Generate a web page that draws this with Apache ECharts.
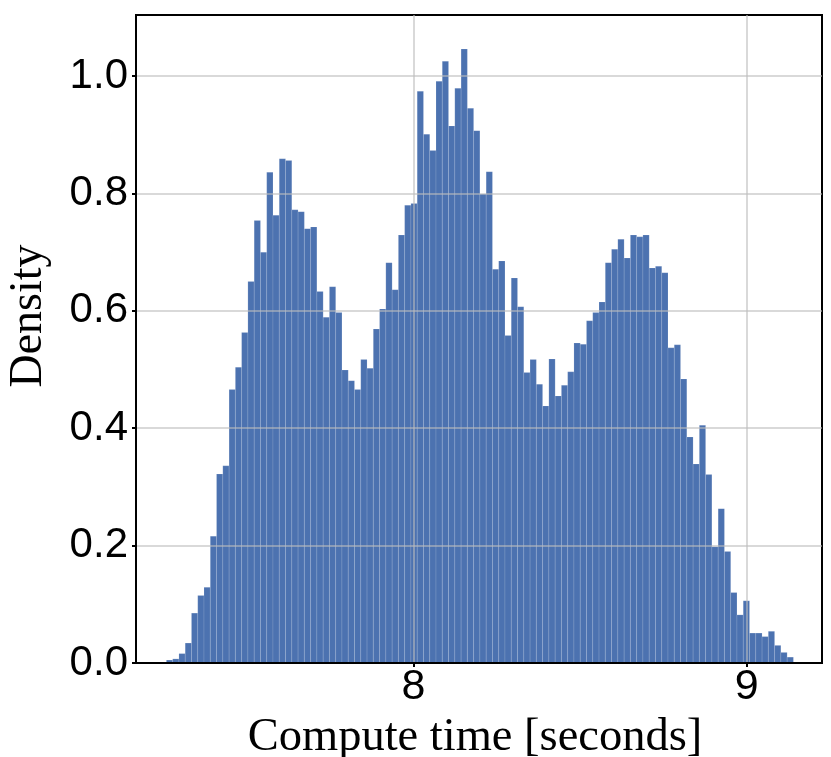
<!DOCTYPE html>
<html>
<head>
<meta charset="utf-8">
<script src="https://cdn.jsdelivr.net/npm/echarts@6/dist/echarts.min.js"></script>
<style>html,body{margin:0;padding:0;background:#fff}#chart{width:831px;height:757px}</style>
</head>
<body>
<div id="chart"></div>
<script>
// Histogram data: 100 bins
const binStart = 7.2592;
const binWidth = 0.01881;
const densities = [
  0.005, 0.007, 0.016, 0.034, 0.085, 0.115, 0.129, 0.216, 0.322, 0.336,
  0.466, 0.504, 0.563, 0.650, 0.754, 0.700, 0.836, 0.763, 0.859, 0.856,
  0.772, 0.769, 0.740, 0.743, 0.633, 0.589, 0.641, 0.597, 0.499, 0.481,
  0.466, 0.517, 0.502, 0.569, 0.603, 0.682, 0.636, 0.729, 0.780, 0.783,
  0.974, 0.901, 0.873, 0.991, 1.025, 0.915, 0.979, 1.046, 0.945, 0.907,
  0.799, 0.837, 0.671, 0.685, 0.558, 0.656, 0.607, 0.495, 0.517, 0.475,
  0.438, 0.518, 0.455, 0.473, 0.496, 0.545, 0.543, 0.583, 0.597, 0.615,
  0.682, 0.705, 0.722, 0.690, 0.729, 0.726, 0.729, 0.673, 0.676, 0.665,
  0.537, 0.542, 0.484, 0.385, 0.339, 0.405, 0.321, 0.198, 0.263, 0.190,
  0.120, 0.082, 0.106, 0.051, 0.051, 0.045, 0.054, 0.030, 0.018, 0.010
];
const xTicks = [8, 9];
const yTicks = [0.0, 0.2, 0.4, 0.6, 0.8, 1.0];
const xRange = [7.168, 9.226];
const yRange = [0, 1.104];
const xName = 'Compute time [seconds]';
const yName = 'Density';

const bins = densities.map((d, i) => [binStart + i * binWidth, binStart + (i + 1) * binWidth, d]);

const chart = echarts.init(document.getElementById('chart'), null, {renderer: 'canvas'});
const gridColor = 'rgba(188,188,188,0.57)';
chart.setOption({
  animation: false,
  backgroundColor: '#ffffff',
  grid: {left: 136, right: 9, top: 15, bottom: 94, show: true, borderColor: '#000', borderWidth: 2,
    backgroundColor: 'transparent', containLabel: false, outerBoundsMode: 'none'},
  xAxis: {
    type: 'value', min: xRange[0], max: xRange[1], z: 10,
    name: xName, nameLocation: 'middle', nameGap: 26,
    nameTextStyle: {fontFamily: 'Liberation Serif', fontSize: 46.5, color: '#000', padding: [0, 8, 0, 0]},
    axisLine: {show: true, onZero: false, lineStyle: {color: '#000', width: 2}},
    axisTick: {show: true, customValues: xTicks, length: 4, lineStyle: {color: '#000', width: 2}},
    axisLabel: {customValues: xTicks, margin: 3, fontFamily: 'Liberation Sans', fontSize: 43, color: '#000'},
    splitLine: {show: true, lineStyle: {color: gridColor, width: 2}}
  },
  yAxis: {
    type: 'value', min: yRange[0], max: yRange[1], z: 10,
    name: yName, nameLocation: 'middle', nameGap: 84, nameRotate: 90,
    nameTextStyle: {fontFamily: 'Liberation Serif', fontSize: 46, color: '#000', padding: [0, 0, 0, 46]},
    axisLine: {show: true, lineStyle: {color: '#000', width: 2}},
    axisTick: {show: true, customValues: yTicks, length: 4, lineStyle: {color: '#000', width: 2}},
    axisLabel: {customValues: yTicks, margin: 8, fontFamily: 'Liberation Sans', fontSize: 42, color: '#000',
      formatter: v => v.toFixed(1)},
    splitLine: {show: true, lineStyle: {color: gridColor, width: 2}}
  },
  series: [{
    type: 'custom',
    z: 2,
    data: bins,
    encode: {x: [0, 1], y: 2},
    renderItem: function (params, api) {
      const p0 = api.coord([api.value(0), api.value(2)]);
      const p1 = api.coord([api.value(1), 0]);
      return {
        type: 'rect',
        shape: {x: p0[0], y: p0[1], width: p1[0] - p0[0], height: p1[1] - p0[1]},
        style: {fill: '#4C72B0', stroke: 'rgba(255,255,255,0.2)', lineWidth: 0.6}
      };
    }
  }]
});
</script>
</body>
</html>
